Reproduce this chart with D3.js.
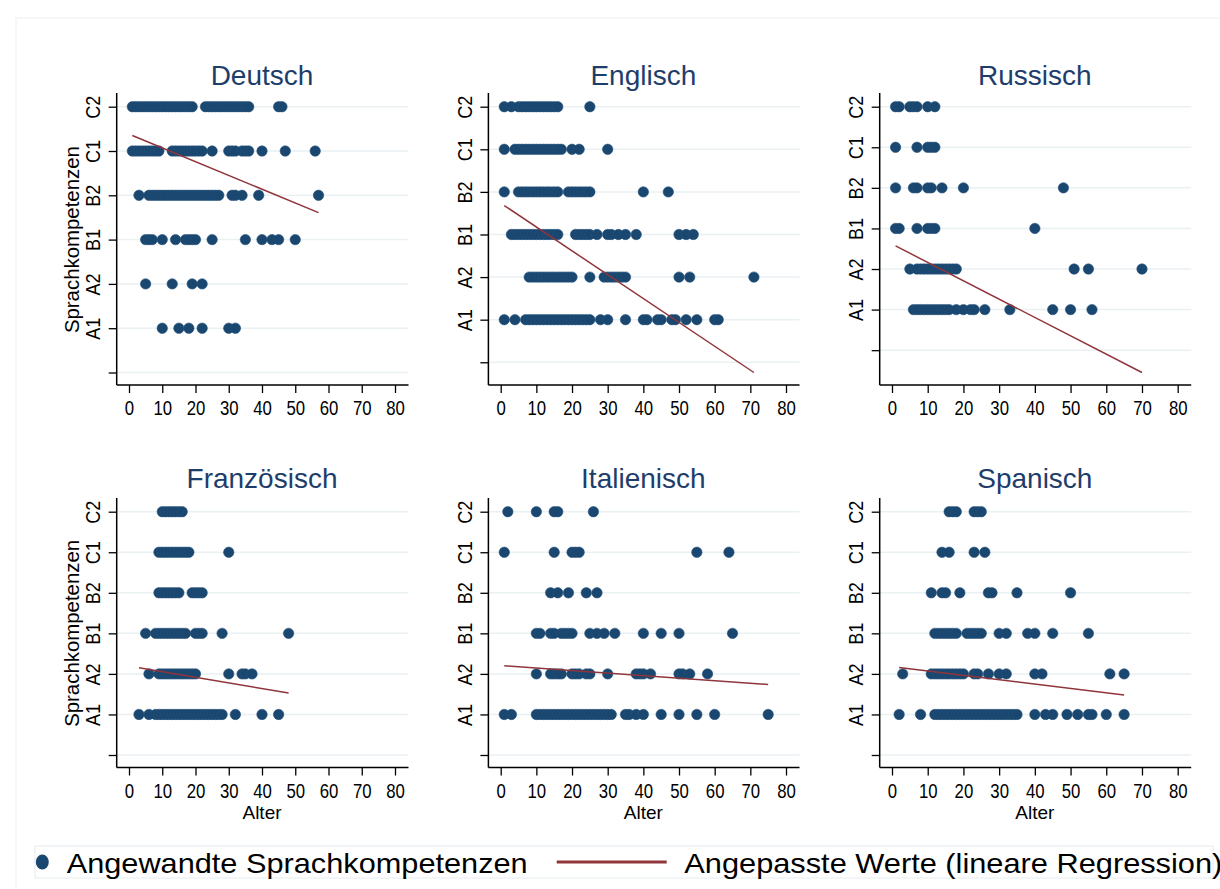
<!DOCTYPE html>
<html>
<head>
<meta charset="utf-8">
<script src="https://cdn.jsdelivr.net/npm/d3@7"></script>
<style>
  body { margin: 0; background: #fff; }
  svg text { font-family: "Liberation Sans", Arial, sans-serif; }
</style>
</head>
<body>
<svg id="chart" width="1220" height="889"></svg>
<script>
var languages = ["Deutsch", "Englisch", "Russisch", "Französisch", "Italienisch", "Spanisch"];
var levelLabels = ["", "A1", "A2", "B1", "B2", "C1", "C2"];
var levelTicks = [0, 1, 2, 3, 4, 5, 6];
var xTicks = [0, 10, 20, 30, 40, 50, 60, 70, 80];

// [level, ages]   A1=1 ... C2=6
var deutsch = [
  [6, [1,2,3,4,5,6,7,8,9,10,11,12,13,14,15,16,17,18,19,23,24,25,26,27,28,29,30,31,32,33,34,35,36,45,46]],
  [5, [1,2,3,4,5,6,7,8,9,13,14,15,16,17,18,19,20,21,22,25,30,31,32,34,35,36,40,47,56]],
  [4, [3,6,7,8,9,10,11,12,13,14,15,16,17,18,19,20,21,22,23,24,25,26,27,31,32,34,39,57]],
  [3, [5,6,7,10,14,17,18,19,20,25,35,40,43,45,50]],
  [2, [5,13,19,22]],
  [1, [10,15,18,22,30,32]]
];
var englisch = [
  [6, [1,3,5,6,7,8,9,10,11,12,13,14,15,16,25]],
  [5, [1,4,5,6,7,8,9,10,11,12,13,14,15,16,17,20,22,30]],
  [4, [1,5,6,7,8,9,10,11,12,13,14,15,16,19,20,21,22,23,24,25,40,47]],
  [3, [3,4,5,6,7,8,9,10,11,12,13,14,15,16,21,22,23,24,25,27,30,31,33,35,38,50,52,54]],
  [2, [8,9,10,11,12,13,14,15,16,17,18,19,20,25,29,30,31,32,33,34,35,50,53,71]],
  [1, [1,4,7,8,9,10,11,12,13,14,15,16,17,18,19,20,21,22,23,24,25,28,30,35,40,41,44,45,48,49,52,55,60,61]]
];
var russisch = [
  [6, [1,2,5,6,7,10,12]],
  [5, [1,7,10,11,12]],
  [4, [1,6,7,10,11,14,20,48]],
  [3, [1,2,7,10,11,12,40]],
  [2, [5,7,8,9,10,11,12,13,14,15,16,17,18,51,55,70]],
  [1, [6,7,8,9,10,11,12,13,14,15,16,18,20,22,23,26,33,45,50,56]]
];
var franzoesisch = [
  [6, [10,11,12,13,14,15,16]],
  [5, [9,10,11,12,13,14,15,16,17,18,30]],
  [4, [9,10,11,12,13,14,15,19,20,21,22]],
  [3, [5,8,9,10,11,12,13,14,15,16,17,20,21,22,28,48]],
  [2, [6,9,10,11,12,13,14,15,16,17,18,19,20,30,34,35,37]],
  [1, [3,6,8,9,10,11,12,13,14,15,16,17,18,19,20,21,22,23,24,25,26,27,28,32,40,45]]
];
var italienisch = [
  [6, [2,10,15,16,26]],
  [5, [1,15,20,21,22,55,64]],
  [4, [14,16,19,24,27]],
  [3, [10,11,14,15,17,18,19,20,25,27,29,32,40,45,50,65]],
  [2, [10,14,15,16,17,20,21,22,24,25,30,38,39,40,42,50,51,53,58]],
  [1, [1,3,10,11,12,13,14,15,16,17,18,19,20,21,22,23,24,25,26,27,28,29,30,31,35,36,38,40,45,50,55,60,75]]
];
var spanisch = [
  [6, [16,17,18,23,24,25]],
  [5, [14,16,23,26]],
  [4, [11,14,15,19,27,28,35,50]],
  [3, [12,13,14,15,16,17,18,21,22,23,24,25,30,32,38,40,45,55]],
  [2, [3,11,12,13,14,15,16,17,18,19,20,23,24,27,30,32,40,42,61,65]],
  [1, [2,8,12,13,14,15,16,17,18,19,20,21,22,23,24,25,26,27,28,29,30,31,32,33,34,35,40,43,45,49,52,55,56,60,65]]
];
var panelPoints = [deutsch, englisch, russisch, franzoesisch, italienisch, spanisch];

// fitted line: [age start, fitted level, age end, fitted level]
var fitLines = [
  [1, 5.35, 57, 3.61],
  [1, 3.68, 71, -0.24],
  [1, 2.57, 70, -0.55],
  [3, 2.15, 48, 1.53],
  [1, 2.2, 75, 1.74],
  [2, 2.16, 65, 1.48]
];

var legendLabels = ["Angewandte Sprachkompetenzen", "Angepasste Werte (lineare Regression)"];

var dotColor = "#1a476f",
  lineColor = "#90353b",
  titleColor = "#1e3d6b",
  gridColor = "#e9f1f3";

// layout
var cols = [
  { x0: 129, x1: 395 },
  { x0: 500.7, x1: 786 },
  { x0: 892, x1: 1177.7 }
];
var rows = [
  { top: 106.7, bottom: 372.5, title: 85 },
  { top: 511.7, bottom: 755, title: 488 }
];

var svg = d3.select("#chart");

svg.append("rect")
  .attr("x", 16).attr("y", 18)
  .attr("width", 1220).attr("height", 900)
  .attr("fill", "none").attr("stroke", "#efefef");

languages.forEach(function (lang, i) {
  var c = cols[i % 3], r = rows[Math.floor(i / 3)];
  var fit = fitLines[i];
  var x = d3.scaleLinear().domain([0, 80]).range([c.x0, c.x1]);
  var yMin = Math.min(0, fit[1], fit[3]);
  var y = d3.scaleLinear().domain([yMin, 6]).range([r.bottom, r.top]);

  var axisX = x(0) - 12.3,
    axisY = r.bottom + 12.5,
    axisTop = r.top - 13.7,
    rightEnd = x(80) + 13.5;

  var g = svg.append("g");

  // grid
  g.selectAll(".grid")
    .data(levelTicks)
    .enter()
    .append("line")
    .attr("x1", axisX).attr("x2", rightEnd)
    .attr("y1", function (d) { return y(d); })
    .attr("y2", function (d) { return y(d); })
    .attr("stroke", gridColor).attr("stroke-width", 1.5);

  // y axis
  var ya = g.append("g")
    .attr("transform", "translate(" + axisX + ",0)")
    .call(d3.axisLeft(y).tickValues(levelTicks).tickSize(8)
      .tickFormat(function (d) { return levelLabels[d]; }));
  ya.select(".domain").remove();
  ya.selectAll("line").attr("stroke", "#000").attr("stroke-width", 1.3);
  ya.selectAll("text")
    .attr("x", 0).attr("dy", 0)
    .attr("transform", "translate(-16.7,0) rotate(-90) scale(0.88,1)")
    .attr("text-anchor", "middle")
    .attr("fill", "#000")
    .style("font-size", "20.5px");

  // x axis
  var xa = g.append("g")
    .attr("transform", "translate(0," + axisY + ")")
    .call(d3.axisBottom(x).tickValues(xTicks).tickSize(8));
  xa.select(".domain").remove();
  xa.selectAll("line").attr("stroke", "#000").attr("stroke-width", 1.3);
  xa.selectAll("text")
    .attr("y", 30.5).attr("dy", 0)
    .attr("transform", "scale(0.86,1)")
    .attr("fill", "#000")
    .style("font-size", "19.5px");

  g.append("line")
    .attr("x1", axisX).attr("x2", axisX)
    .attr("y1", axisTop).attr("y2", axisY)
    .attr("stroke", "#000").attr("stroke-width", 1.5);
  g.append("line")
    .attr("x1", axisX).attr("x2", rightEnd)
    .attr("y1", axisY).attr("y2", axisY)
    .attr("stroke", "#000").attr("stroke-width", 1.5);

  // points
  var pts = [];
  panelPoints[i].forEach(function (row) {
    row[1].forEach(function (a) { pts.push({ age: a, level: row[0] }); });
  });
  g.selectAll(".dot")
    .data(pts)
    .enter()
    .append("circle")
    .attr("cx", function (d) { return x(d.age); })
    .attr("cy", function (d) { return y(d.level); })
    .attr("r", 5.2)
    .attr("fill", dotColor)
    .attr("stroke", "#24507a")
    .attr("stroke-width", 0.6);

  // fitted line
  var fitLine = d3.line()
    .x(function (d) { return x(d[0]); })
    .y(function (d) { return y(d[1]); });
  g.append("path")
    .attr("d", fitLine([[fit[0], fit[1]], [fit[2], fit[3]]]))
    .attr("fill", "none")
    .attr("stroke", lineColor)
    .attr("stroke-width", 1.5);

  // title
  g.append("text")
    .attr("x", (c.x0 + c.x1) / 2).attr("y", r.title)
    .attr("text-anchor", "middle")
    .attr("fill", titleColor)
    .style("font-size", "28px")
    .text(lang);

  if (i % 3 === 0) {
    g.append("text")
      .attr("transform", "translate(78.5," + (r.top + r.bottom) / 2 + ") rotate(-90)")
      .attr("text-anchor", "middle")
      .attr("textLength", 187)
      .attr("lengthAdjust", "spacingAndGlyphs")
      .attr("fill", "#000")
      .style("font-size", "21px")
      .text("Sprachkompetenzen");
  }
  if (Math.floor(i / 3) === 1) {
    g.append("text")
      .attr("x", (c.x0 + c.x1) / 2).attr("y", 819)
      .attr("text-anchor", "middle")
      .attr("fill", "#000")
      .style("font-size", "19px")
      .text("Alter");
  }
});

// legend
var lg = svg.append("g");
lg.append("rect")
  .attr("x", 35).attr("y", 846)
  .attr("width", 1178).attr("height", 32)
  .attr("fill", "#fff").attr("stroke", "#e4ecef");
lg.append("ellipse")
  .attr("cx", 42.3).attr("cy", 862)
  .attr("rx", 6.5).attr("ry", 7.5)
  .attr("fill", dotColor);
lg.append("text")
  .attr("x", 66.7).attr("y", 872.7)
  .attr("textLength", 461)
  .attr("lengthAdjust", "spacingAndGlyphs")
  .style("font-size", "28px")
  .attr("fill", "#000")
  .text(legendLabels[0]);
lg.append("line")
  .attr("x1", 556.7).attr("x2", 666.7)
  .attr("y1", 862).attr("y2", 862)
  .attr("stroke", lineColor).attr("stroke-width", 3);
lg.append("text")
  .attr("x", 684.3).attr("y", 872.7)
  .attr("textLength", 538)
  .attr("lengthAdjust", "spacingAndGlyphs")
  .style("font-size", "28px")
  .attr("fill", "#000")
  .text(legendLabels[1]);
</script>
</body>
</html>
